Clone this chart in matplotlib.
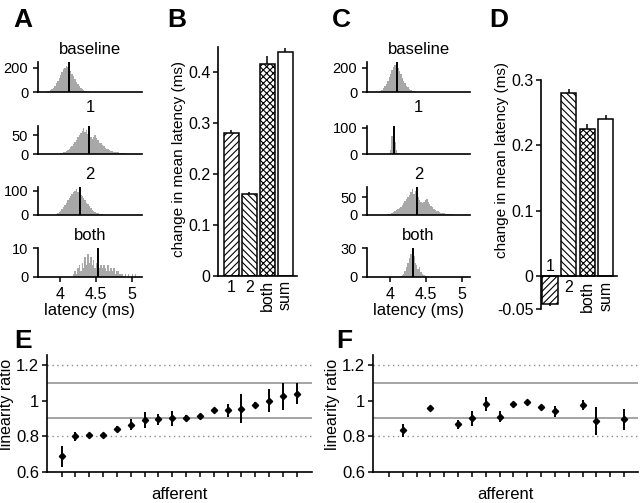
"""Latency histograms, mean-latency bar charts and linearity ratios (panels A-F)."""
import numpy as np
import matplotlib
matplotlib.use("Agg")
import matplotlib.pyplot as plt

plt.rcParams['font.family'] = ['Liberation Sans', 'DejaVu Sans']
plt.rcParams['hatch.linewidth'] = 0.8
plt.rcParams['axes.linewidth'] = 1.2

BIN = 0.02  # ms per histogram bin
HIST_GRAY = "#a8a8a8"
REF_GRAY = "#8c8c8c"

# ---- A: latency histograms (counts per bin, first bin edge in ms) ----
a_base_start = 3.78
a_base = [2, 4, 6, 10, 16, 24, 36, 52, 70, 92, 115, 140, 165, 185, 200, 210, 205,
          190, 170, 150, 128, 105, 85, 66, 50, 36, 26, 18, 12, 8, 5, 3, 2]
a_one_start = 3.98
a_one = [1, 2, 3, 4, 6, 8, 11, 14, 18, 22, 27, 32, 38, 44, 50, 55, 62, 70, 58, 64,
         52, 46, 44, 40, 45, 50, 42, 36, 30, 28, 24, 20, 17, 14, 12, 10, 8, 7, 6,
         5, 4, 4, 3, 3, 2, 2, 2, 1, 1, 1, 1, 1, 1, 1, 1]
a_two_start = 3.92
a_two = [2, 4, 7, 11, 16, 23, 32, 42, 52, 62, 72, 80, 88, 95, 100, 110, 96, 104,
         85, 78, 70, 62, 52, 44, 36, 28, 22, 17, 12, 9, 7, 5, 4, 3, 2, 2, 1, 1]
a_both_start = 4.16
a_both = [0, 1, 2, 1, 3, 4, 2, 5, 3, 7, 4, 8, 5, 7, 4, 6, 3, 5, 4, 3, 4, 3, 4, 3,
          2, 4, 2, 3, 2, 3, 1, 2, 2, 1, 1, 1, 0, 1, 0, 1, 0, 0, 1, 0, 1, 0]
a_means = [4.12, 4.40, 4.28, 4.53]

# ---- C: latency histograms ----
c_base_start = 3.80
c_base = [2, 4, 7, 12, 20, 32, 48, 68, 92, 120, 150, 180, 205, 220, 212, 195, 172,
          145, 118, 92, 70, 52, 38, 27, 18, 12, 8, 5, 3, 2]
c_one_start = 3.98
c_one = [3, 15, 70, 100, 45, 15, 5, 2]
c_two_start = 3.94
c_two = [1, 2, 3, 4, 6, 8, 10, 13, 16, 20, 24, 29, 34, 40, 46, 52, 58, 66, 75, 60,
         68, 55, 50, 42, 38, 34, 38, 44, 46, 38, 30, 26, 22, 18, 15, 12, 10, 8, 7,
         6, 5, 4, 3, 3, 2, 2, 2, 1, 1, 1, 1, 1, 1, 1]
c_both_start = 4.14
c_both = [1, 2, 3, 6, 10, 15, 20, 24, 28, 22, 15, 12, 8, 10, 5, 3, 2, 1, 1]
c_means = [4.10, 4.058, 4.38, 4.325]

hist_titles = ["baseline", "1", "2", "both"]
a_yticks = [200, 50, 100, 10]
c_yticks = [200, 100, 50, 30]

# ---- B / D: change in mean latency (ms) ----
conditions = ["1", "2", "both", "sum"]
b_change = [0.28, 0.16, 0.415, 0.44]
b_err = [0.006, 0.004, 0.017, 0.007]
d_change = [-0.042, 0.28, 0.225, 0.24]
d_err = [0.004, 0.006, 0.007, 0.007]

# ---- E / F: linearity ratio per afferent ----
afferent = list(range(1, 19))
e_ratio = [0.688, 0.80, 0.805, 0.81, 0.842, 0.865, 0.893, 0.895, 0.90, 0.905,
           0.912, 0.945, 0.945, 0.955, 0.978, 1.0, 1.025, 1.04]
e_err = [0.06, 0.025, 0.008, 0.008, 0.015, 0.03, 0.045, 0.03, 0.04, 0.012,
         0.012, 0.01, 0.035, 0.08, 0.015, 0.065, 0.075, 0.06]
nan = np.nan
f_ratio = [nan, 0.834, nan, 0.96, nan, 0.868, 0.90, 0.98, 0.91, 0.98, 0.99, 0.966,
           0.94, nan, 0.975, 0.887, nan, 0.895]
f_err = [nan, 0.035, nan, 0.008, nan, 0.025, 0.04, 0.04, 0.03, 0.015, 0.012, 0.012,
         0.03, nan, 0.03, 0.08, nan, 0.06]

W, H = 640, 503
fig = plt.figure(figsize=(W / 100, H / 100), dpi=100)


def px_axes(left, top, right, bottom):
    """Add axes from pixel box (origin top-left)."""
    return fig.add_axes([left / W, 1 - bottom / H, (right - left) / W, (bottom - top) / H])


def _spines(ax):
    for s in ("top", "right"):
        ax.spines[s].set_visible(False)
    ax.tick_params(direction="out", length=3.5, width=1.1)


ROWS = [(62, 92), (126, 154), (187, 215), (248, 277)]
TITLE_PAD = [6, 10, 6, 5.5]


def hist_column(left, right, xlim, starts, counts, means, yticks):
    for i, (top, bot) in enumerate(ROWS):
        ax = px_axes(left, top, right, bot)
        edges = starts[i] + BIN * np.arange(len(counts[i]) + 1)
        ax.stairs(counts[i], edges, fill=True, color=HIST_GRAY, lw=0)
        ax.axvline(means[i], color="k", lw=1.4)
        ax.set_xlim(*xlim)
        ymax = max(counts[i]) * 1.06 if i != 0 else yticks[i] * 1.23
        ax.set_ylim(0, ymax)
        ax.set_yticks([0, yticks[i]])
        ax.set_yticklabels(["0", str(yticks[i])], fontsize=10.5)
        _spines(ax)
        ax.set_title(hist_titles[i], fontsize=12, pad=TITLE_PAD[i])
        if i == 3:
            ax.set_xticks([4, 4.5, 5])
            ax.set_xticklabels(["4", "4.5", "5"], fontsize=11.5)
            ax.set_xlabel("latency (ms)", fontsize=12, labelpad=1)
        else:
            ax.set_xticks([])


hist_column(38, 142, (3.695, 5.14),
            [a_base_start, a_one_start, a_two_start, a_both_start],
            [a_base, a_one, a_two, a_both], a_means, a_yticks)
hist_column(367, 470, (3.68, 5.11),
            [c_base_start, c_one_start, c_two_start, c_both_start],
            [c_base, c_one, c_two, c_both], c_means, c_yticks)

HATCHES = ["/////", "\\\\\\\\\\", "xxxxx", ""]


def bar_panel(ax, vals, errs, xlim, ylim, ticks, ticklabels, label_xy):
    x = np.arange(1, len(vals) + 1)
    lower = [e if v < 0 else 0 for v, e in zip(vals, errs)]
    upper = [e if v >= 0 else 0 for v, e in zip(vals, errs)]
    ax.bar(x, vals, width=0.82, color="white", edgecolor="k", lw=1.1,
           hatch=HATCHES, zorder=2)
    ax.errorbar(x, vals, yerr=[lower, upper], fmt="none", ecolor="k",
                elinewidth=1.1, capsize=0, zorder=3)
    ax.set_xlim(*xlim)
    ax.set_ylim(*ylim)
    ax.set_yticks(ticks)
    ax.set_yticklabels(ticklabels, fontsize=11.5)
    ax.set_xticks([])
    _spines(ax)
    ax.tick_params(axis="y", pad=2)
    ax.spines["bottom"].set_position(("data", 0))
    ax.set_ylabel("change in mean latency (ms)", fontsize=11)
    ax.yaxis.set_label_coords(*label_xy)
    for xi, v, lab in zip(x, vals, conditions):
        rot = 90 if len(lab) > 1 else 0
        if v < 0:
            ax.annotate(lab, (xi, 0), xytext=(0, 2), textcoords="offset points",
                        ha="center", va="bottom", fontsize=11.5)
        else:
            ax.annotate(lab, (xi, 0), xytext=(0, -3), textcoords="offset points",
                        ha="center", va="top", rotation=rot, fontsize=11.5)


axB = px_axes(218, 47, 297, 276)
bar_panel(axB, b_change, b_err, (0.25, 4.64), (0, 0.449),
          [0, 0.1, 0.2, 0.3, 0.4], ["0", "0.1", "0.2", "0.3", "0.4"], (-0.40, 0.51))
axD = px_axes(541, 80, 617, 309)
bar_panel(axD, d_change, d_err, (0.51, 4.61), (-0.05, 0.3),
          [-0.05, 0, 0.1, 0.2, 0.3], ["-0.05", "0", "0.1", "0.2", "0.3"], (-0.42, 0.65))


def ratio_panel(ax, vals, errs, xlim):
    for y in (0.9, 1.1):
        ax.axhline(y, color=REF_GRAY, lw=1.1, zorder=1)
    for y in (0.8, 1.2):
        ax.axhline(y, color=REF_GRAY, lw=1.0, ls=(0, (1, 2.5)), zorder=1)
    ax.errorbar(afferent, vals, yerr=errs, fmt="D", ms=3.2, color="k",
                ecolor="k", elinewidth=1.4, capsize=0, zorder=3)
    ax.set_xlim(*xlim)
    ax.set_ylim(0.6, 1.256)
    ax.set_xticks(afferent)
    ax.set_xticklabels([])
    ax.set_yticks([0.6, 0.8, 1.0, 1.2])
    ax.set_yticklabels(["0.6", "0.8", "1", "1.2"], fontsize=12)
    _spines(ax)
    ax.tick_params(axis="y", pad=2)
    ax.set_xlabel("afferent", fontsize=12, labelpad=4)
    ax.set_ylabel("linearity ratio", fontsize=11.5)
    ax.yaxis.set_label_coords(-0.123, 0.58)


axE = px_axes(47, 355, 312, 472)
ratio_panel(axE, e_ratio, e_err, (-0.05, 19.1))
axF = px_axes(373, 355, 638, 472)
ratio_panel(axF, f_ratio, f_err, (-0.15, 19.0))

for lab, (x, y) in zip("ABCDEF", [(13, 8), (167, 8), (332, 8), (489, 8), (14, 329), (336, 329)]):
    fig.text(x / W, 1 - y / H, lab, fontsize=19, fontweight="bold", ha="left", va="top")

fig.savefig("out.png", dpi=100)
